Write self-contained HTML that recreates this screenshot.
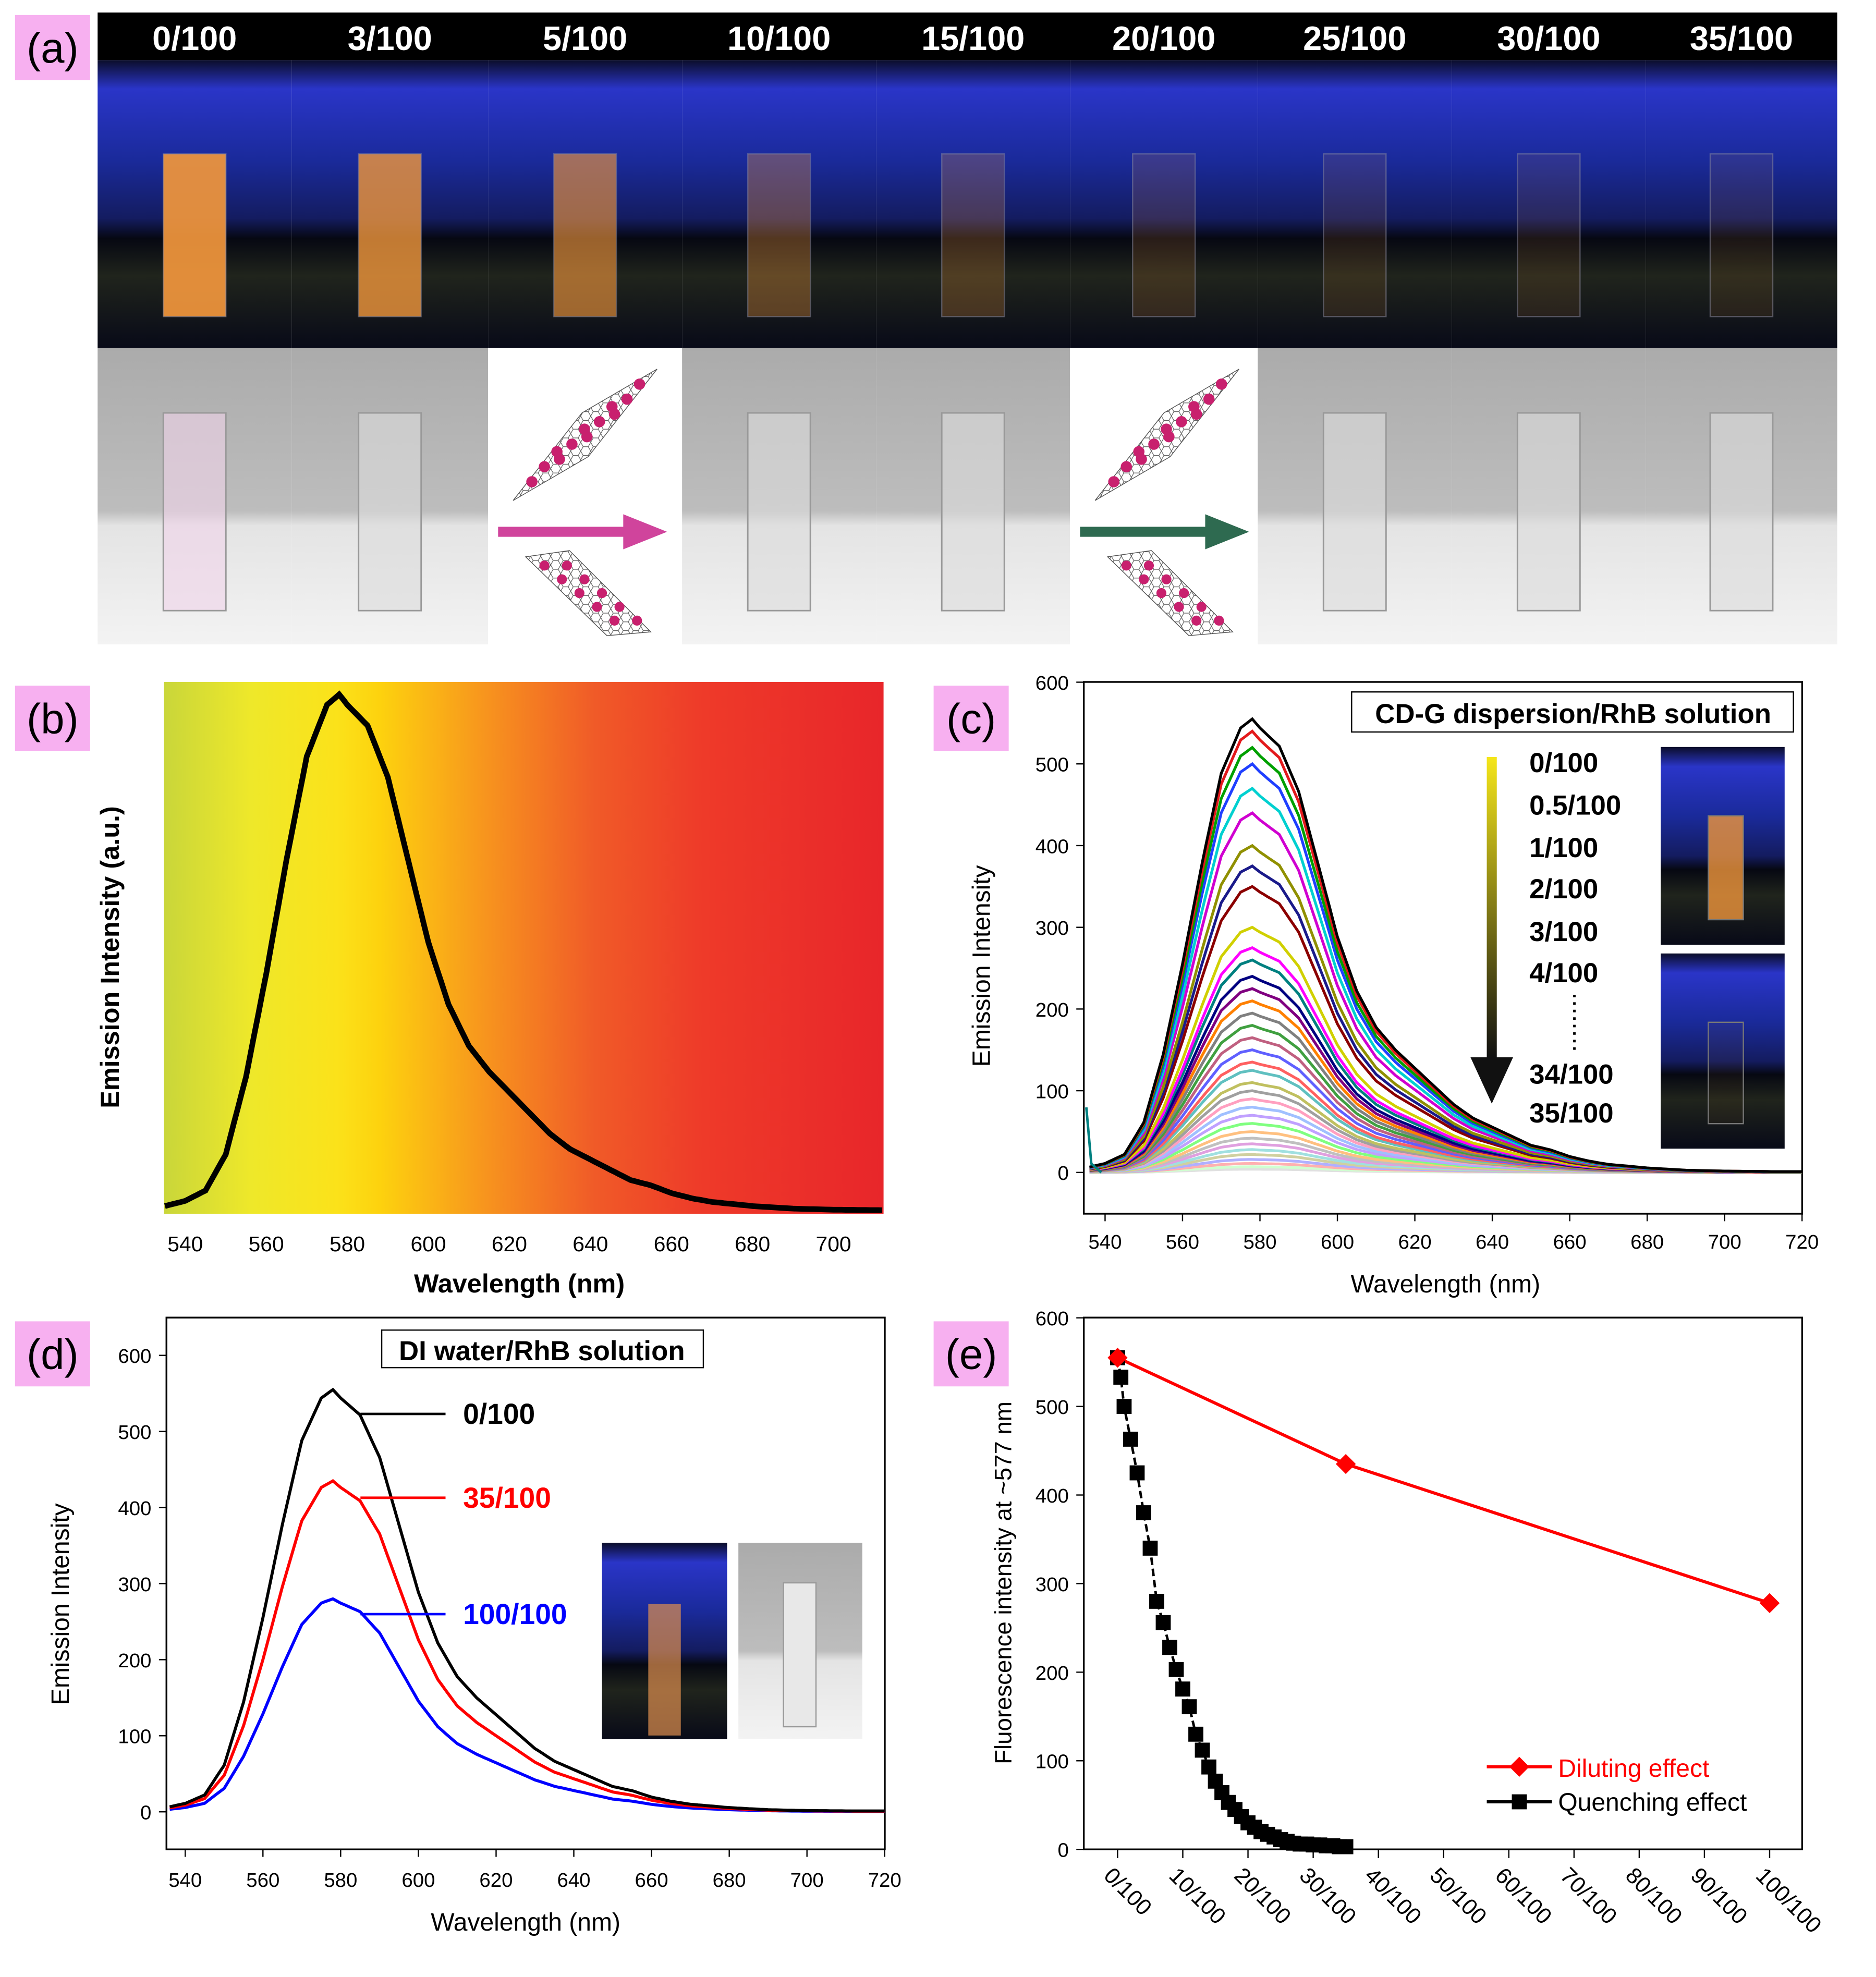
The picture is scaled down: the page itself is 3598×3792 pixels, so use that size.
<!DOCTYPE html>
<html><head><meta charset="utf-8"><style>
html,body{margin:0;padding:0;background:#fff;}
svg{display:block;font-family:"Liberation Sans",Arial,sans-serif;}
</style></head><body>
<svg id="fig" width="3598" height="3792" viewBox="0 0 1499 1580" preserveAspectRatio="none" xmlns="http://www.w3.org/2000/svg">
<defs>
<linearGradient id="gb" x1="0" x2="1" y1="0" y2="0">
<stop offset="0" stop-color="#c9d63a"/><stop offset="0.12" stop-color="#eee82a"/><stop offset="0.24" stop-color="#fbe21a"/><stop offset="0.3" stop-color="#fdd20e"/><stop offset="0.45" stop-color="#f7931e"/><stop offset="0.6" stop-color="#f05a28"/><stop offset="0.75" stop-color="#ee3a29"/><stop offset="1" stop-color="#e8262a"/>
</linearGradient>
<linearGradient id="blue" x1="0" x2="0" y1="0" y2="1">
<stop offset="0" stop-color="#0b0d2a"/><stop offset="0.1" stop-color="#2a35c8"/><stop offset="0.35" stop-color="#1a2a9a"/><stop offset="0.55" stop-color="#141c60"/><stop offset="0.62" stop-color="#060812"/><stop offset="0.75" stop-color="#20241c"/><stop offset="1" stop-color="#080a18"/>
</linearGradient>
<linearGradient id="gray" x1="0" x2="0" y1="0" y2="1">
<stop offset="0" stop-color="#ababab"/><stop offset="0.55" stop-color="#bdbdbd"/><stop offset="0.6" stop-color="#e4e4e4"/><stop offset="1" stop-color="#f3f3f3"/>
</linearGradient>
<linearGradient id="arr" x1="0" x2="0" y1="0" y2="1">
<stop offset="0" stop-color="#f5e61a"/><stop offset="1" stop-color="#111"/>
</linearGradient>
<pattern id="hex" width="8" height="7" patternUnits="userSpaceOnUse"><path d="M0 3.5 L2 0 L6 0 L8 3.5 L6 7 L2 7 Z" fill="none" stroke="#555" stroke-width="0.5"/></pattern>
</defs>
<g id="pa"></g>
<g id="pb"></g>
<g id="pc"></g>
<g id="pd"></g>
<g id="pe"></g>
</svg>
<script>
// ---------- data ----------
const ratioLabels=["0/100","3/100","5/100","10/100","15/100","20/100","25/100","30/100","35/100"];
const cuvetteGlow=[1,0.85,0.65,0.3,0.18,0.08,0.04,0.02,0.01];
const specWl=[535,540,545,550,555,560,565,570,575,578,580,585,590,595,600,605,610,615,620,625,630,635,640,645,650,655,660,665,670,680,690,700,712];
const specVal=[1,2,4,11,26,46,68,88,98,100,98,94,84,68,52,40,32,27,23,19,15,12,10,8,6,5,3.5,2.5,1.8,1,0.5,0.3,0.2];
const cPeaks=[555,540,520,500,470,440,400,375,350,300,275,260,240,225,210,195,180,165,150,135,125,110,100,90,80,70,60,50,42,35,28,22,16,11,7,4];
const cColors=["#000","#e31a1c","#00a000","#1f3fff","#00d0d0","#d000d0","#909000","#1a1a8a","#8b0000","#d0d000","#ff00ff","#008080","#000080","#800080","#ff8000","#808080","#40a040","#c06080","#6060ff","#ff6060","#60c0c0","#c0c060","#a0a0a0","#ffa0c0","#a0c0ff","#c0a0ff","#80ff80","#ffc080","#c0c0c0","#e0a0e0","#a0e0e0","#d0d0a0","#b0b0ff","#ffb0b0","#d0ffd0","#e0e0e0"];
const dLabels=["0/100","35/100","100/100"];
const dPeaks=[555,435,280];
const dColors=["#000","#ff0000","#0000ff"];
const cats=["0/100","10/100","20/100","30/100","40/100","50/100","60/100","70/100","80/100","90/100","100/100"];
const dilX=[0,35,100];
const dilY=[555,435,278];
const qX=[0,0.5,1,2,3,4,5,6,7,8,9,10,11,12,13,14,15,16,17,18,19,20,21,22,23,24,25,26,27,28,29,30,31,32,33,34,35];
const qY=[555,533,500,463,425,380,340,280,256,228,203,181,161,130,112,93,77,64,53,45,37,30,25,20,17,14,11,9,7,6,6,5,5,4,4,3,3];
// ---------- helpers ----------
const NS="http://www.w3.org/2000/svg";
function mk(tag,attrs,parent,txt){const e=document.createElementNS(NS,tag);for(const k in attrs)e.setAttribute(k,attrs[k]);if(txt!==undefined)e.textContent=txt;parent.appendChild(e);return e;}
function label(par,x,y,t){
 const r=mk('rect',{x:x,y:y,width:60,height:52,fill:'#f7b0f0'},par);
 
 
 const tx=mk('text',{x:x+30,y:y+38,'text-anchor':'middle','font-size':34,fill:'#000'},par,t);
 
 
}
function spec(wl){
 if(wl<=specWl[0])return specVal[0];
 for(let i=1;i<specWl.length;i++){if(wl<=specWl[i]){const t=(wl-specWl[i-1])/(specWl[i]-specWl[i-1]);return specVal[i-1]+t*(specVal[i]-specVal[i-1]);}}
 return specVal[specVal.length-1];
}
function curvePts(sx,sy,scale,w0,w1){let p=[];for(let w=w0;w<=w1;w+=1){p.push(sx(w).toFixed(1)+','+sy(spec(w)*scale/100).toFixed(1));}return p.join(' ');}
function axisText(par,x,y,t,anchor,size,name){const e=mk('text',{x:x,y:y,'text-anchor':anchor||'middle','font-size':size||17,fill:'#000'},par,t);return e;}
// ---------- panel a ----------
const pa=document.getElementById('pa');
label(pa,12,12,'(a)');
const colX=[78,233,390,545,700,855,1005,1160,1315,1468];
const topBar=mk('rect',{x:78,y:10,width:1390,height:38,fill:'#000'},pa);


for(let i=0;i<9;i++){
 const x0=colX[i],w=colX[i+1]-x0,cx=x0+w/2;
 const rl=axisText(pa,cx,40,ratioLabels[i],'middle',27,'ratio-label');
 rl.setAttribute('fill','#fff');
 rl.setAttribute('font-weight','bold');
 const uv=mk('rect',{x:x0,y:48,width:w,height:230,fill:'url(#blue)'},pa);
 
 
 const g=cuvetteGlow[i];
 const cu=mk('rect',{x:cx-25,y:123,width:50,height:130,fill:'rgb(240,150,60)','fill-opacity':0.08+0.85*g,stroke:'#8a8aa0','stroke-opacity':0.5,'stroke-width':1},pa);
 
 
 if(i===2||i===5){
  const bg=mk('rect',{x:x0,y:278,width:w,height:237,fill:'#fff'},pa);
  
  
  mk('polygon',{points:`${x0+20},${400} ${x0+75},${330} ${x0+135},${295} ${x0+80},${365}`,fill:'url(#hex)',stroke:'#555','stroke-width':0.6},pa);
  mk('polygon',{points:`${x0+30},${445} ${x0+65},${440} ${x0+130},${505} ${x0+95},${508}`,fill:'url(#hex)',stroke:'#555','stroke-width':0.6},pa);
  for(let k=0;k<12;k++){mk('circle',{cx:x0+35+(k%4)*22+Math.floor(k/4)*10,cy:385-(k%4)*18-Math.floor(k/4)*12,r:4.5,fill:'#c8206e'},pa);}
  for(let k=0;k<10;k++){mk('circle',{cx:x0+45+(k%5)*14+Math.floor(k/5)*18,cy:452+(k%5)*11,r:4,fill:'#c8206e'},pa);}
  const a=mk('path',{d:`M${x0+8} 421 h100 v-10 l35 14 l-35 14 v-10 h-100 z`,fill:i===2?'#d0449c':'#2e6a50'},pa);
  
  
 } else {
  const ph=mk('rect',{x:x0,y:278,width:w,height:237,fill:'url(#gray)'},pa);
  
  
  const c2=mk('rect',{x:cx-25,y:330,width:50,height:158,fill:i===0?'#f0d4ea':'#dcdcdc','fill-opacity':0.6,stroke:'#999','stroke-width':1.2},pa);
  
  
 }
}
// ---------- panel b ----------
const pb=document.getElementById('pb');
label(pb,12,548,'(b)');
const bx=w=>148+(w-540)*3.2375, by=v=>968-v*4.13;
const grad=mk('rect',{x:131,y:545,width:575,height:425,fill:'url(#gb)'},pb);


const bl=mk('polyline',{points:curvePts(bx,by,100,535,712),fill:'none',stroke:'#000','stroke-width':4.5},pb);


for(let w=540;w<=700;w+=20)axisText(pb,bx(w),1000,String(w),'middle',17);
axisText(pb,415,1033,'Wavelength (nm)','middle',21,'x-axis-title').setAttribute('font-weight','bold');
const byt=axisText(pb,0,0,'Emission Intensity (a.u.)','middle',21,'y-axis-title');
byt.setAttribute('transform','translate(95,765) rotate(-90)');
byt.setAttribute('font-weight','bold');
// ---------- panel c ----------
const pc=document.getElementById('pc');
label(pc,746,548,'(c)');
const cx_=w=>883+(w-540)*3.094, cy_=v=>937-v*0.653;
function frame(par,x0,y0,x1,y1,yTicks,ysc,xTicks,xsc){
 const f=mk('rect',{x:x0,y:y0,width:x1-x0,height:y1-y0,fill:'none',stroke:'#000','stroke-width':1.4},par);
 
 
 yTicks.forEach(t=>{mk('line',{x1:x0,x2:x0-6,y1:ysc(t),y2:ysc(t),stroke:'#000'},par);axisText(par,x0-12,ysc(t)+6,String(t),'end',16);});
 xTicks.forEach(t=>{mk('line',{x1:xsc(t),x2:xsc(t),y1:y1,y2:y1+6,stroke:'#000'},par);});
}
const yT=[0,100,200,300,400,500,600], xT=[540,560,580,600,620,640,660,680,700,720];
frame(pc,866,545,1440,970,yT,cy_,xT,cx_);
xT.forEach(t=>axisText(pc,cx_(t),998,String(t),'middle',16));
for(let i=cPeaks.length-1;i>=0;i--){
 const l=mk('polyline',{points:curvePts(cx_,cy_,cPeaks[i],536,720),fill:'none',stroke:cColors[i],'stroke-width':2.2},pc);
 
 
}
const spike=mk('path',{d:'M868 885 L872 930 L880 937',fill:'none',stroke:'#008080','stroke-width':2},pc);


const lb=mk('rect',{x:1080,y:553,width:353,height:32,fill:'#fff',stroke:'#000'},pc);


axisText(pc,1257,578,'CD-G dispersion/RhB solution','middle',22,'legend-title').setAttribute('font-weight','bold');
const ga=mk('rect',{x:1188,y:605,width:8,height:240,fill:'url(#arr)'},pc);


mk('polygon',{points:'1175,845 1209,845 1192,882',fill:'#111'},pc);
[["0/100",617],["0.5/100",651],["1/100",685],["2/100",718],["3/100",752],["4/100",785],["34/100",866],["35/100",897]].forEach(([t,y])=>axisText(pc,1222,y,t,'start',22,'legend-entry').setAttribute('font-weight','bold'));
mk('line',{x1:1258,x2:1258,y1:795,y2:840,stroke:'#000','stroke-width':2,'stroke-dasharray':'2,4'},pc);
[[597,755,1],[762,918,0]].forEach(([y0,y1,g])=>{const r=mk('rect',{x:1327,y:y0,width:99,height:y1-y0,fill:'url(#blue)'},pc);mk('rect',{x:1365,y:y0+55,width:28,height:y1-y0-75,fill:'#f0963c','fill-opacity':g?0.8:0.05,stroke:'#777'},pc);});
axisText(pc,1155,1033,'Wavelength (nm)','middle',20,'x-axis-title');
axisText(pc,0,0,'Emission Intensity','middle',20,'y-axis-title').setAttribute('transform','translate(791,772) rotate(-90)');
// ---------- panel d ----------
const pd=document.getElementById('pd');
label(pd,12,1056,'(d)');
const dx=w=>148+(w-540)*3.105, dy=v=>1448-v*0.608;
frame(pd,133,1053,707,1478,yT,dy,xT,dx);
xT.forEach(t=>axisText(pd,dx(t),1508,String(t),'middle',16));
for(let i=dPeaks.length-1;i>=0;i--){
 const l=mk('polyline',{points:curvePts(dx,dy,dPeaks[i],536,720),fill:'none',stroke:dColors[i],'stroke-width':2.4},pd);
 
 
}
const db=mk('rect',{x:305,y:1063,width:257,height:30,fill:'#fff',stroke:'#000'},pd);


axisText(pd,433,1087,'DI water/RhB solution','middle',22,'legend-title').setAttribute('font-weight','bold');
[[1130,0],[1197,1],[1290,2]].forEach(([y,i])=>{mk('line',{x1:288,x2:356,y1:y,y2:y,stroke:dColors[i],'stroke-width':2},pd);const t=axisText(pd,370,y+8,dLabels[i],'start',23,'series-label');t.setAttribute('fill',dColors[i]);t.setAttribute('font-weight','bold');});
const di1=mk('rect',{x:481,y:1233,width:100,height:157,fill:'url(#blue)'},pd);


mk('rect',{x:518,y:1282,width:26,height:105,fill:'#e09050','fill-opacity':0.7},pd);
const di2=mk('rect',{x:590,y:1233,width:99,height:157,fill:'url(#gray)'},pd);


mk('rect',{x:626,y:1265,width:26,height:115,fill:'#e8e8e8',stroke:'#999'},pd);
axisText(pd,420,1543,'Wavelength (nm)','middle',20,'x-axis-title');
axisText(pd,0,0,'Emission Intensity','middle',20,'y-axis-title').setAttribute('transform','translate(55,1282) rotate(-90)');
// ---------- panel e ----------
const pe=document.getElementById('pe');
label(pe,746,1056,'(e)');
const ex=v=>893+v*5.21, ey=v=>1478-v*0.708;
const ef=mk('rect',{x:866,y:1053,width:574,height:425,fill:'none',stroke:'#000','stroke-width':1.4},pe);


yT.forEach(t=>{mk('line',{x1:866,x2:860,y1:ey(t),y2:ey(t),stroke:'#000'},pe);axisText(pe,854,ey(t)+6,String(t),'end',16);});
cats.forEach((c,i)=>{const v=i*10;mk('line',{x1:ex(v),x2:ex(v),y1:1478,y2:1485,stroke:'#000'},pe);axisText(pe,0,0,c,'start',18,'x-category-label').setAttribute('transform',`translate(${ex(v)-12},${1500}) rotate(45)`);});
const dl=mk('polyline',{points:dilX.map((v,i)=>ex(v)+','+ey(dilY[i])).join(' '),fill:'none',stroke:'#ff0000','stroke-width':2.5},pe);


const ql=mk('polyline',{points:qX.map((v,i)=>ex(v)+','+ey(qY[i])).join(' '),fill:'none',stroke:'#000','stroke-width':2,'stroke-dasharray':'6,3'},pe);


qX.forEach((v,i)=>{const r=mk('rect',{x:ex(v)-6,y:ey(qY[i])-6,width:12,height:12,fill:'#000'},pe);});
dilX.forEach((v,i)=>{const x=ex(v),y=ey(dilY[i]);const p=mk('polygon',{points:`${x},${y-8} ${x+8},${y} ${x},${y+8} ${x-8},${y}`,fill:'#ff0000'},pe);});
mk('line',{x1:1188,x2:1240,y1:1412,y2:1412,stroke:'#ff0000','stroke-width':2.5},pe);
mk('polygon',{points:'1214,1404 1222,1412 1214,1420 1206,1412',fill:'#ff0000'},pe);
axisText(pe,1245,1420,'Diluting effect','start',20,'legend-entry').setAttribute('fill','#ff0000');
mk('line',{x1:1188,x2:1240,y1:1440,y2:1440,stroke:'#000','stroke-width':2.5},pe);
mk('rect',{x:1208,y:1434,width:12,height:12,fill:'#000'},pe);
axisText(pe,1245,1447,'Quenching effect','start',20,'legend-entry');
axisText(pe,0,0,'Fluorescence intensity at ~577 nm','middle',19,'y-axis-title').setAttribute('transform','translate(808,1265) rotate(-90)');
</script>
</body></html>
